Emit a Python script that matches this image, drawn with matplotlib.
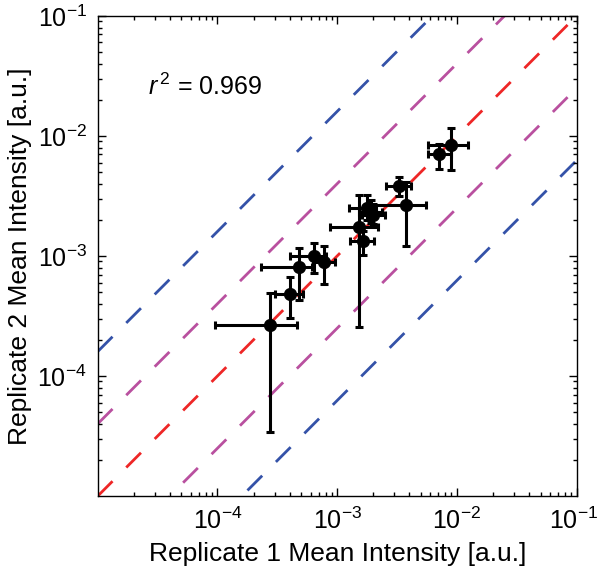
import numpy as np
import matplotlib
matplotlib.use("Agg")
import matplotlib.pyplot as plt
import matplotlib.transforms as mtransforms
from matplotlib.ticker import LogLocator, NullFormatter

plt.rcParams['font.family'] = ['Liberation Sans', 'DejaVu Sans']
plt.rcParams['mathtext.fontset'] = 'custom'
plt.rcParams['mathtext.rm'] = 'Liberation Sans'
plt.rcParams['mathtext.it'] = 'Liberation Sans:italic'

# Replicate 1 (x) and Replicate 2 (y) mean intensities
rep1 = [2.77e-4, 4.06e-4, 4.76e-4, 6.35e-4, 7.79e-4, 1.53e-3, 1.63e-3,
        1.77e-3, 1.90e-3, 2.00e-3, 3.29e-3, 3.74e-3, 7.08e-3, 9.00e-3]
rep2 = [2.66e-4, 4.82e-4, 8.05e-4, 1.00e-3, 8.97e-4, 1.73e-3, 1.32e-3,
        2.50e-3, 2.34e-3, 2.20e-3, 3.83e-3, 2.66e-3, 7.03e-3, 8.41e-3]
rep1_low = [9.6e-5, 3.04e-4, 2.31e-4, 4.06e-4, 6.22e-4, 8.7e-4, 1.28e-3,
            1.26e-3, 1.53e-3, 1.60e-3, 2.58e-3, 1.85e-3, 5.77e-3, 5.77e-3]
rep1_high = [4.6e-4, 5.14e-4, 6.2e-4, 8.05e-4, 9.57e-4, 2.21e-3, 2.03e-3,
             2.10e-3, 2.39e-3, 2.50e-3, 4.11e-3, 5.55e-3, 8.86e-3, 1.24e-2]
rep2_low = [3.4e-5, 3.03e-4, 4.3e-4, 7.26e-4, 5.84e-4, 2.55e-4, 1.02e-3,
            2.00e-3, 1.87e-3, 1.85e-3, 3.18e-3, 1.20e-3, 5.27e-3, 5.21e-3]
rep2_high = [4.94e-4, 6.73e-4, 1.16e-3, 1.28e-3, 1.20e-3, 3.22e-3, 1.60e-3,
             3.22e-3, 2.93e-3, 2.70e-3, 4.58e-3, 4.11e-3, 8.58e-3, 1.16e-2]

# Fold-change guide lines y = k * x
fold_factors = [1/16, 1/4, 1, 4, 16]
fold_colors = ['#3452A8', '#B9509F', '#EE2626', '#B9509F', '#3452A8']

r2_text = r'$r^{\,2}$ = 0.969'
axis_limits = [1e-5, 1e-1]

x = np.array(rep1); y = np.array(rep2)
xerr = np.array([x - np.array(rep1_low), np.array(rep1_high) - x])
yerr = np.array([y - np.array(rep2_low), np.array(rep2_high) - y])

fig = plt.figure(figsize=(6.0, 5.75), dpi=100)
ax = fig.add_axes([0.163, 0.1374, 0.798, 0.835])

xl = np.array(axis_limits)
for k, c in zip(fold_factors, fold_colors):
    ax.plot(xl, k * xl, color=c, lw=2.0, dashes=(7.5, 7), zorder=1)

ax.errorbar(x, y, xerr=xerr, yerr=yerr, fmt='o', color='black', ms=8.5,
            elinewidth=2.2, capsize=3.2, capthick=2.2, zorder=3)

ax.set_xscale('log'); ax.set_yscale('log')
ax.set_xlim(axis_limits); ax.set_ylim(axis_limits)

ax.xaxis.set_minor_locator(LogLocator(base=10, subs=np.arange(2, 10), numticks=20))
ax.yaxis.set_minor_locator(LogLocator(base=10, subs=np.arange(2, 10), numticks=20))
ax.xaxis.set_minor_formatter(NullFormatter())
ax.yaxis.set_minor_formatter(NullFormatter())

xt = [1e-4, 1e-3, 1e-2, 1e-1]
yt = [1e-4, 1e-3, 1e-2, 1e-1]
ax.set_xticks(xt)
ax.set_xticklabels([r'$10^{%d}$' % int(np.log10(v)) for v in xt])
ax.set_yticks(yt)
ax.set_yticklabels([r'$10^{%d}$' % int(np.log10(v)) for v in yt])

ax.tick_params(which='both', direction='in', top=True, right=True, width=1)
ax.tick_params(which='major', length=6, labelsize=18, pad=8)
ax.tick_params(which='minor', length=3)
for s in ax.spines.values():
    s.set_linewidth(1)

# nudge the last x tick label so it stays inside the figure
last = ax.get_xticklabels()[-1]
last.set_transform(last.get_transform() +
                   mtransforms.ScaledTranslation(-3/100, 0, fig.dpi_scale_trans))

ax.set_xlabel('Replicate 1 Mean Intensity [a.u.]', fontsize=19, labelpad=6)
ax.set_ylabel('Replicate 2 Mean Intensity [a.u.]', fontsize=19, labelpad=4)

ax.text(0.104, 0.852, r2_text, transform=ax.transAxes, fontsize=18,
        ha='left', va='center')

fig.savefig('out.png', dpi=100)
